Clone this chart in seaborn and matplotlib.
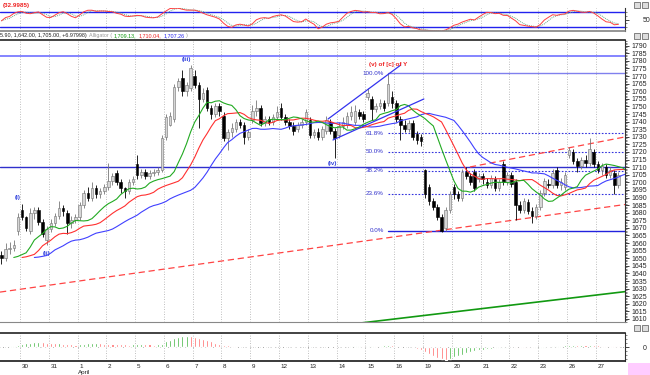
import numpy as np
import pandas as pd
import matplotlib
matplotlib.use("Agg")
import matplotlib.pyplot as plt
import matplotlib.patches as mpatches
import matplotlib.transforms as mtransforms
from matplotlib import font_manager
import seaborn as sns

# hourly candles, 7 per day (first day partial)
opens = [
    1652, 1650, 1656, 1657, 1668,
    1682, 1677, 1668, 1680, 1682, 1674, 1662,
    1669, 1673, 1678, 1683, 1680, 1673, 1675,
    1677, 1685, 1693, 1690, 1696, 1692, 1694,
    1697, 1701, 1706, 1700, 1696, 1694, 1700,
    1712, 1705, 1707, 1704, 1706, 1707, 1708,
    1730, 1738, 1742, 1763, 1769, 1760, 1762,
    1770, 1764, 1755, 1761, 1749, 1745, 1750,
    1744, 1729, 1733, 1735, 1740, 1738, 1730,
    1741, 1747, 1749, 1739, 1742, 1740, 1743,
    1749, 1743, 1740, 1737, 1735, 1738, 1740,
    1741, 1731, 1733, 1730, 1734, 1740, 1734,
    1731, 1737, 1738, 1744, 1740, 1746, 1745,
    1756, 1755, 1748, 1750, 1752, 1752, 1756,
    1752, 1742, 1738, 1735, 1739, 1732, 1730,
    1708, 1697, 1688, 1684, 1677, 1670, 1682,
    1697, 1692, 1690, 1707, 1704, 1707, 1702,
    1704, 1700, 1698, 1702, 1696, 1712, 1700,
    1705, 1700, 1685, 1682, 1687, 1681, 1678,
    1684, 1693, 1699, 1698, 1708, 1698, 1697,
    1718, 1720, 1714, 1711, 1715, 1713, 1720,
    1712, 1708, 1710, 1705, 1706, 1698,
]
highs = [
    1655, 1660, 1661, 1662, 1680,
    1686, 1678, 1683, 1684, 1684, 1676, 1671,
    1676, 1680, 1688, 1685, 1682, 1678, 1679,
    1687, 1695, 1697, 1700, 1698, 1696, 1699,
    1713, 1706, 1708, 1702, 1697, 1702, 1704,
    1718, 1709, 1709, 1708, 1709, 1710, 1731,
    1745, 1746, 1765, 1769, 1774, 1766, 1777,
    1774, 1766, 1762, 1763, 1751, 1752, 1752,
    1746, 1735, 1739, 1742, 1742, 1740, 1735,
    1751, 1754, 1751, 1744, 1744, 1745, 1750,
    1752, 1745, 1742, 1740, 1740, 1742, 1748,
    1743, 1735, 1736, 1737, 1744, 1742, 1736,
    1740, 1743, 1746, 1750, 1751, 1748, 1747,
    1762, 1757, 1752, 1755, 1754, 1772, 1760,
    1754, 1744, 1741, 1741, 1741, 1734, 1732,
    1709, 1699, 1690, 1686, 1679, 1684, 1694,
    1699, 1694, 1709, 1710, 1706, 1709, 1706,
    1706, 1703, 1705, 1704, 1702, 1714, 1707,
    1707, 1702, 1688, 1690, 1689, 1684, 1686,
    1695, 1703, 1702, 1709, 1710, 1703, 1707,
    1723, 1722, 1716, 1717, 1718, 1729, 1722,
    1714, 1713, 1712, 1710, 1708, 1707,
]
lows = [
    1646, 1648, 1653, 1655, 1665,
    1675, 1668, 1666, 1676, 1672, 1664, 1659,
    1667, 1671, 1676, 1678, 1666, 1670, 1673,
    1675, 1683, 1688, 1688, 1690, 1690, 1692,
    1695, 1698, 1698, 1693, 1690, 1692, 1698,
    1702, 1703, 1702, 1702, 1704, 1705, 1707,
    1728, 1737, 1740, 1760, 1757, 1757, 1760,
    1762, 1736, 1753, 1747, 1742, 1743, 1744,
    1727, 1721, 1730, 1733, 1736, 1725, 1728,
    1739, 1744, 1737, 1737, 1738, 1738, 1741,
    1741, 1738, 1735, 1731, 1733, 1736, 1738,
    1729, 1729, 1728, 1728, 1732, 1732, 1716,
    1729, 1735, 1736, 1741, 1738, 1742, 1740,
    1754, 1741, 1746, 1748, 1747, 1750, 1749,
    1740, 1728, 1733, 1733, 1728, 1725, 1724,
    1690, 1685, 1682, 1675, 1667, 1668, 1680,
    1689, 1688, 1688, 1702, 1698, 1694, 1700,
    1699, 1696, 1696, 1694, 1694, 1698, 1698,
    1697, 1675, 1680, 1680, 1679, 1673, 1676,
    1682, 1691, 1696, 1696, 1696, 1695, 1695,
    1716, 1712, 1707, 1709, 1710, 1711, 1710,
    1706, 1705, 1703, 1703, 1692, 1696,
]
closes = [
    1650, 1656, 1657, 1659, 1677,
    1677, 1670, 1680, 1682, 1674, 1666, 1669,
    1673, 1678, 1683, 1681, 1673, 1675, 1677,
    1685, 1693, 1690, 1696, 1692, 1694, 1697,
    1701, 1704, 1700, 1696, 1694, 1700, 1702,
    1705, 1707, 1704, 1706, 1707, 1708, 1729,
    1743, 1744, 1763, 1767, 1760, 1764, 1775,
    1764, 1755, 1759, 1749, 1745, 1750, 1747,
    1729, 1733, 1736, 1740, 1738, 1730, 1733,
    1747, 1749, 1739, 1742, 1740, 1743, 1746,
    1743, 1740, 1737, 1734, 1738, 1740, 1746,
    1731, 1733, 1730, 1735, 1741, 1734, 1729,
    1737, 1740, 1744, 1746, 1747, 1744, 1742,
    1759, 1748, 1750, 1752, 1749, 1765, 1752,
    1742, 1738, 1735, 1739, 1730, 1728, 1727,
    1692, 1688, 1684, 1677, 1668, 1682, 1692,
    1692, 1690, 1707, 1704, 1700, 1696, 1704,
    1702, 1698, 1703, 1696, 1700, 1700, 1705,
    1699, 1685, 1682, 1688, 1681, 1678, 1684,
    1693, 1701, 1698, 1706, 1698, 1700, 1705,
    1721, 1714, 1711, 1715, 1713, 1722, 1712,
    1708, 1711, 1705, 1708, 1698, 1705,
]

# lower oscillator histogram, one value per candle
osc_hist = [
    0.0, 0.5, 1.0, 1.5, 2.5,
    3.5, 4.0, 4.5, 5.0, 5.2, 4.8, 4.3,
    3.8, 3.6, 3.8, 3.5, 3.0, 2.6, 2.4,
    2.8, 3.2, 3.6, 4.0, 4.1, 3.8, 3.5,
    3.4, 3.2, 3.0, 2.8, 2.6, 2.5, 2.6,
    2.9, 3.1, 2.8, 2.6, 2.5, 2.6, 3.5,
    6.0, 7.5, 9.0, 10.5, 11.2, 11.5, 11.3,
    10.5, 9.5, 8.3, 7.0, 5.8, 4.5, 3.3,
    2.4, 1.6, 1.0, 0.6, 0.4, 0.2, 0.1,
    0.3, 0.5, 0.4, 0.2, 0.1, -0.1, 0.2,
    0.3, 0.2, -0.2, -0.4, -0.3, 0.0, 0.2,
    -0.2, -0.4, -0.5, -0.4, -0.2, -0.3, -0.5,
    -0.3, 0.0, 0.3, 0.6, 0.8, 0.9, 0.8,
    1.2, 1.4, 1.3, 1.5, 1.6, 1.9, 1.7,
    1.3, 0.8, 0.3, -0.2, -0.8, -1.5, -2.5,
    -4.5, -6.5, -8.5, -10.5, -12.0, -12.8, -12.0,
    -10.0, -8.6, -7.5, -6.3, -5.2, -4.2, -3.3,
    -2.6, -2.0, -1.6, -1.4, -1.2, -1.0, -0.7,
    -0.4, -0.5, -0.8, -1.0, -1.2, -1.4, -1.3,
    -1.0, -0.5, 0.2, 0.8, 1.3, 1.5, 1.7,
    2.0, 2.2, 2.1, 2.3, 2.2, 2.4, 2.1,
    1.8, 1.5, 1.2, 1.0, 0.8, 0.6,
]

day_labels = ["30", "31", "1", "2", "5", "6", "7", "8", "9", "12", "13",
              "14", "15", "16", "19", "20", "21", "22", "23", "26", "27"]
price_ticks = list(range(1610, 1791, 5))

fib_high = 1772
fib_low = 1668
fib_pcts = [100.0, 61.8, 50.0, 38.2, 23.6, 0.0]
hlines = [1783, 1710]

# trendlines: (x0, p0, x1, p1) in candle index / price
red_dash_lines = [(-0.35, 1627.7, 151.6, 1685.4), (113.9, 1710.1, 151.6, 1729.9)]
blue_lines = [(79.4, 1741.7, 97.1, 1777.3), (80.6, 1727.9, 102.7, 1754.9)]
green_lines = [(87.2, 1607.3, 151.6, 1628.0)]

wave_labels = [("(i)", 4.0, 1690.3, "#3344dd"), ("(ii)", 11.1, 1653.4, "#3344dd"),
               ("(iii)", 44.9, 1781.2, "#3344dd"), ("(iv)", 80.4, 1712.7, "#3344dd"),
               ("(v) of [c] of Y", 94.0, 1777.3, "#ee2222")]

header_parts = [("5.90, 1,642.00, 1,705.00, +6.97998)", "#222222"),
                ("Alligator (", "#999999"), ("1,709.13,", "#119911"),
                ("1,710.04,", "#ee2222"), ("1,707.26", "#2222ee"), (")", "#999999")]

sns.set_theme(style="white")
names = {f.name for f in font_manager.fontManager.ttflist}
narrow = "Liberation Sans Narrow" if "Liberation Sans Narrow" in names else "Liberation Sans"
plt.rcParams["font.family"] = [narrow, "DejaVu Sans"]

W, H = 650, 375
fig = plt.figure(figsize=(6.5, 3.75), dpi=100)
fig.patch.set_facecolor("white")


def rect(y0, y1, x1=625):
    return [0, 1 - y1 / H, x1 / W, (y1 - y0) / H]


ax_osc = fig.add_axes(rect(8, 31))
ax = fig.add_axes(rect(40, 322))
ax_ind = fig.add_axes(rect(333, 361))

df = pd.DataFrame({"open": opens, "high": highs, "low": lows, "close": closes})
idx = np.arange(len(df))
xlim = (-0.35, 151.6)
bounds = 4.5 + 7 * np.arange(len(day_labels))

for a in (ax_osc, ax, ax_ind):
    a.set_facecolor("white")
    a.set_xlim(*xlim)
    for b in bounds:
        a.axvline(b, color="#aaaaaa", ls=(0, (1, 2)), lw=0.6, zorder=0)
    a.yaxis.tick_right()
    a.set_xticks([])
    for s in ("left", "top", "bottom"):
        a.spines[s].set_visible(False)
    a.spines["right"].set_color("#333333")
    a.spines["right"].set_linewidth(0.8)

# ---- main price panel
up = df.close >= df.open
ax.vlines(idx[up], df.low[up], df.high[up], color="#777777", lw=0.6, zorder=3)
ax.vlines(idx[~up], df.low[~up], df.high[~up], color="black", lw=0.6, zorder=3)
body_lo = np.minimum(df.open, df.close)
body_h = np.maximum(np.abs(df.close - df.open), 0.4)
ax.bar(idx[up], body_h[up], bottom=body_lo[up], width=0.62, color="#d6d6d6",
       edgecolor="#707070", linewidth=0.4, zorder=4)
ax.bar(idx[~up], body_h[~up], bottom=body_lo[~up], width=0.62, color="black",
       edgecolor="black", linewidth=0.4, zorder=4)

# alligator (jaw, teeth, lips)
median = (df.high + df.low) / 2


def smma(s, n):
    return s.ewm(alpha=1 / n, adjust=False).mean()


for n, shift, col in [(13, 8, "#4040ff"), (8, 5, "#ff3030"), (5, 3, "#22aa22")]:
    sns.lineplot(x=idx + shift, y=smma(median, n).values, ax=ax, color=col,
                 lw=0.8, zorder=5)

ax.axhline(hlines[0], color="#7070ff", lw=1.2, zorder=2)
ax.axhline(hlines[1], color="#3030cc", lw=1.0, zorder=2)

fib_x0 = 94.0
for pct in fib_pcts:
    p = fib_low + pct / 100 * (fib_high - fib_low)
    solid = pct in (0.0, 100.0)
    col = "#2222dd" if pct == 0 else ("#8080ee" if solid else "#3333dd")
    ax.plot([fib_x0, xlim[1]], [p, p], color=col, lw=1.0 if solid else 0.8,
            ls="-" if solid else (0, (1.5, 1.5)), zorder=2)
    ax.text(fib_x0 - 1.0, p, f"{pct:.1f}%", color="#3333cc", fontsize=4.5,
            ha="right", va="center", zorder=6)

for x0, p0, x1, p1 in red_dash_lines:
    ax.plot([x0, x1], [p0, p1], color="#ff4444", lw=0.9, ls=(0, (5, 3)), zorder=2)
for x0, p0, x1, p1 in blue_lines:
    ax.plot([x0, x1], [p0, p1], color="#3333ee", lw=0.9, zorder=6)
for x0, p0, x1, p1 in green_lines:
    ax.plot([x0, x1], [p0, p1], color="#119911", lw=1.2, zorder=2)

for t, x, p, c in wave_labels:
    ax.text(x, p, t, color=c, fontsize=4.5, fontweight="bold", ha="center",
            va="center", zorder=7)

ax.set_ylim(1608.0, 1793.75)
ax.set_yticks(price_ticks)
ax.set_yticks(range(1608, 1794), minor=True)
ax.tick_params(axis="y", which="major", labelsize=5, length=3, width=0.6,
               pad=2, colors="#222222")
ax.tick_params(axis="y", which="minor", length=1.5, width=0.4, colors="#222222")
ax.spines["top"].set_visible(True)
ax.spines["top"].set_color("#222222")
ax.spines["top"].set_linewidth(1.2)
ax.spines["bottom"].set_visible(True)
ax.spines["bottom"].set_color("#888888")
ax.spines["bottom"].set_linewidth(0.8)
ax.set_xlabel("")
ax.set_ylabel("")

# ---- stochastic panel
ll = df.low.rolling(14, min_periods=1).min()
hh = df.high.rolling(14, min_periods=1).max()
k_fast = 100 * (df.close - ll) / (hh - ll)
k_slow = k_fast.rolling(3, min_periods=1).mean()
d_line = k_slow.rolling(3, min_periods=1).mean()
ax_osc.axhline(80, color="#2222ee", lw=1.0)
ax_osc.axhline(20, color="#2222ee", lw=1.0)
sns.lineplot(x=idx, y=d_line.values, ax=ax_osc, color="#66aa88", lw=0.7, ls=(0, (1, 1)))
sns.lineplot(x=idx, y=k_slow.values, ax=ax_osc, color="#ff4040", lw=0.7)
ax_osc.set_ylim(2, 98)
ax_osc.set_yticks([50])
ax_osc.set_yticks([20, 35, 65, 80], minor=True)
ax_osc.tick_params(axis="y", which="major", labelsize=5, length=3, width=0.6, pad=10)
ax_osc.tick_params(axis="y", which="minor", length=1.5, width=0.4)
ax_osc.spines["bottom"].set_visible(True)
ax_osc.spines["bottom"].set_color("#888888")
ax_osc.set_xlabel("")
ax_osc.set_ylabel("")

# ---- histogram panel
hist = pd.Series(osc_hist, dtype=float)
rising = hist.diff().fillna(1) >= 0
bar_cols = np.where(rising, "#22a822", "#ff5050")
ax_ind.bar(idx, hist.values, width=0.5, color=bar_cols, zorder=3)
ax_ind.axhline(0, color="#888888", lw=0.6, ls=(0, (1, 2)), zorder=1)
ax_ind.set_ylim(-14, 14)
ax_ind.set_yticks([0])
ax_ind.set_yticklabels(["0"])
ax_ind.set_yticks([-12, -8, -4, 4, 8, 12], minor=True)
ax_ind.tick_params(axis="y", which="major", labelsize=5, length=3, width=0.6, pad=10)
ax_ind.tick_params(axis="y", which="minor", length=1.5, width=0.4)
ax_ind.spines["top"].set_visible(True)
ax_ind.spines["top"].set_color("#222222")
ax_ind.spines["top"].set_linewidth(1.2)
ax_ind.spines["bottom"].set_visible(True)
ax_ind.spines["bottom"].set_color("#222222")
ax_ind.set_xticks(bounds)
ax_ind.set_xticklabels([])
ax_ind.set_xticks(idx, minor=True)
ax_ind.tick_params(axis="x", which="major", direction="out", length=5, width=0.6)
ax_ind.tick_params(axis="x", which="minor", direction="in", length=2, width=0.4)
ax_ind.set_xlabel("")
ax_ind.set_ylabel("")
trans = mtransforms.blended_transform_factory(ax_ind.transData, ax_ind.transAxes)
for b, lab in zip(bounds, day_labels):
    ax_ind.text(b + 0.4, -0.19, lab, transform=trans, fontsize=4.5, ha="left",
                va="center", color="#222222")
ax_ind.text(bounds[2] + 0.1, -0.4, "April", transform=trans, fontsize=4.5,
            ha="left", va="center", color="#222222")

# ---- header texts
fig.text(3 / W, 1 - 5 / H, "(32.9985)", color="#ee2222", fontsize=4.5,
         fontweight="bold", va="center")
renderer = fig.canvas.get_renderer()
hx = 0.0
for txt, col in header_parts:
    t = fig.text(hx / W, 1 - 36 / H, txt, color=col, fontsize=3.9, va="center")
    hx = t.get_window_extent(renderer).x1 + 2.0

# panel icons and date marker
for yy in (2, 33, 325):
    for xx in (634, 642):
        fig.add_artist(mpatches.Rectangle((xx / W, 1 - (yy + 6) / H), 6 / W, 6 / H,
                                          transform=fig.transFigure, facecolor="#dddddd",
                                          edgecolor="#555555", lw=0.5))
fig.add_artist(mpatches.Rectangle((628 / W, 0), 22 / W, 12 / H, transform=fig.transFigure,
                                  facecolor="#ffccff", edgecolor="none"))

fig.savefig("out.png", dpi=100, facecolor="white")
